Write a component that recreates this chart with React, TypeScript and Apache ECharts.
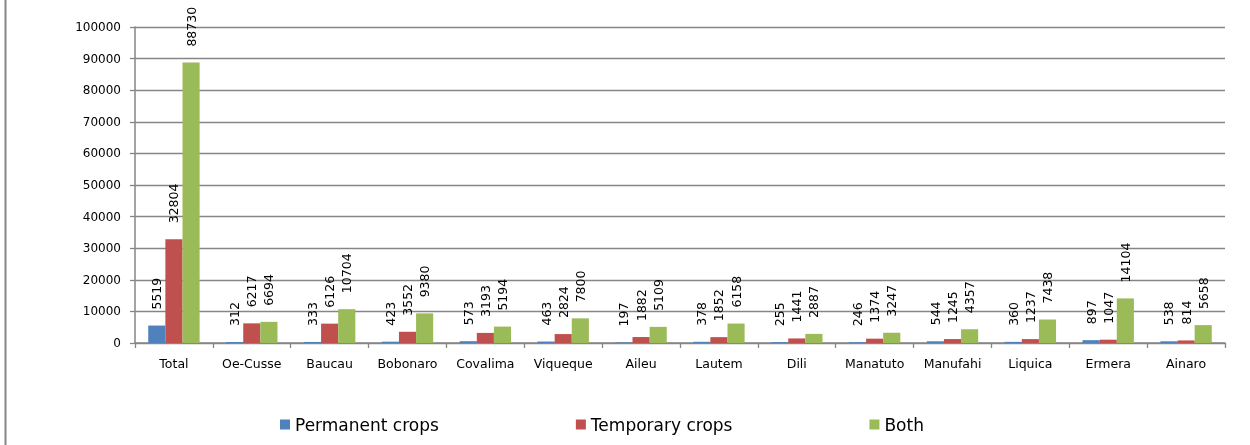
import React, { useEffect, useRef } from "react";
import * as echarts from "echarts";

const categories = ["Total", "Oe-Cusse", "Baucau", "Bobonaro", "Covalima", "Viqueque", "Aileu", "Lautem", "Dili", "Manatuto", "Manufahi", "Liquica", "Ermera", "Ainaro"];
const permanentCrops = [5519, 312, 333, 423, 573, 463, 197, 378, 255, 246, 544, 360, 897, 538];
const temporaryCrops = [32804, 6217, 6126, 3552, 3193, 2824, 1882, 1852, 1441, 1374, 1245, 1237, 1047, 814];
const both = [88730, 6694, 10704, 9380, 5194, 7800, 5109, 6158, 2887, 3247, 4357, 7438, 14104, 5658];
const seriesNames = ["Permanent crops", "Temporary crops", "Both"];
const colors = ["#4F81BD", "#C0504D", "#9BBB59"];

const FONT = "DejaVu Sans";

export default function App() {
  const ref = useRef<HTMLDivElement>(null);
  useEffect(() => {
    if (!ref.current) return;
    const chart = echarts.init(ref.current, null, { renderer: "svg" });
    const label = {
      show: true,
      position: "top",
      rotate: 90,
      align: "left",
      verticalAlign: "middle",
      distance: 16,
      color: "#000",
      fontFamily: FONT,
      fontSize: 12.5,
    };
    const data = [permanentCrops, temporaryCrops, both];
    chart.setOption({
      animation: false,
      textStyle: { fontFamily: FONT },
      grid: { left: 135, right: 25, top: 27, bottom: 102, containLabel: false },
      legend: {
        left: 275,
        top: 411,
        itemWidth: 10,
        itemHeight: 10,
        itemGap: 137,
        icon: "rect",
        textStyle: { fontFamily: FONT, fontSize: 17, color: "#000" },
        data: seriesNames,
      },
      xAxis: {
        type: "category",
        data: categories,
        boundaryGap: true,
        axisLine: { lineStyle: { color: "#868686", width: 1.5 } },
        axisTick: { show: true, alignWithLabel: false, length: 5, lineStyle: { color: "#868686", width: 1.3 } },
        axisLabel: { color: "#000", fontFamily: FONT, fontSize: 12.5, margin: 14, interval: 0 },
      },
      yAxis: {
        type: "value",
        min: 0,
        max: 100000,
        interval: 10000,
        axisLine: { show: true, lineStyle: { color: "#868686", width: 1.5 } },
        axisTick: { show: true, length: 5, lineStyle: { color: "#868686", width: 1.3 } },
        axisLabel: { color: "#000", fontFamily: FONT, fontSize: 12, margin: 14, formatter: (v: number) => String(v) },
        splitLine: { show: true, lineStyle: { color: "#868686", width: 1.3 } },
      },
      series: seriesNames.map((name, i) => ({
        name,
        type: "bar",
        data: data[i],
        barGap: "0%",
        barCategoryGap: "34%",
        itemStyle: { color: colors[i] },
        label,
      })),
      graphic: [
        {
          type: "line",
          shape: { x1: 5.5, y1: 0, x2: 5.5, y2: 445 },
          style: { stroke: "#868686", lineWidth: 2 },
        },
      ],
    });
    return () => chart.dispose();
  }, []);
  return <div ref={ref} style={{ position: "fixed", left: 0, top: 0, width: 1250, height: 445 }} />;
}
